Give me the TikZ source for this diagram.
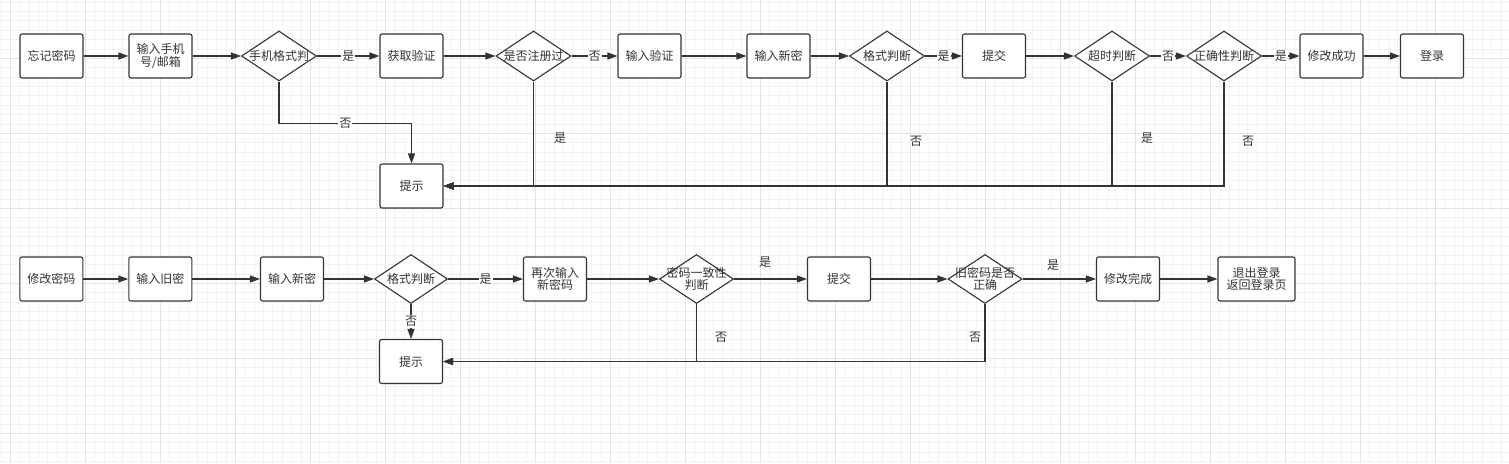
\documentclass[tikz,border=0pt]{standalone}
\usepackage{fontspec}
\setmainfont{Noto Sans CJK SC}
\usetikzlibrary{arrows.meta,shapes.geometric}
\definecolor{ln}{HTML}{333333}
\definecolor{gminorc}{HTML}{F2F2F2}
\definecolor{gmajorc}{HTML}{E3E3E3}
\tikzset{
  txtfont/.style={font=\fontsize{12}{10}\selectfont, text=ln, align=center},
  box/.style={draw=ln, line width=1.1pt, rounded corners=2pt, fill=white,
    minimum width=63pt, minimum height=44pt, inner sep=0pt, txtfont},
  dia/.style={diamond, draw=ln, line width=1.1pt, fill=white,
    minimum width=75pt, minimum height=50pt, inner sep=0pt},
  dtxt/.style={txtfont, inner sep=0pt},
  arr/.style={draw=ln, line width=1.1pt, -{Triangle[length=10pt,width=7pt]}},
  onlbl/.style={fill=white, inner sep=1pt, txtfont},
  sidelbl/.style={inner sep=0pt, txtfont},
}
\begin{document}
\begin{tikzpicture}[x=1pt,y=-1pt]
\fill[white] (0,0) rectangle (1509,463);
\useasboundingbox (0,0) rectangle (1509,463);
% grid
\foreach \i in {0,...,161} {\draw[gminorc, line width=0.7pt] ({\i*9.375+0.925},0) -- ({\i*9.375+0.925},463);}
\foreach \i in {0,...,49} {\draw[gminorc, line width=0.7pt] (0,{\i*9.375+2.05}) -- (1509,{\i*9.375+2.05});}
\foreach \i in {0,...,20} {\draw[gmajorc, line width=0.8pt] ({\i*75+10.3},0) -- ({\i*75+10.3},463);}
\foreach \i in {0,...,6} {\draw[gmajorc, line width=0.8pt] (0,{\i*75+58.3}) -- (1509,{\i*75+58.3});}

% ---------- top row ----------
\node[box] (a1) at (51.5,56) {忘记密码};
\node[box] (a2) at (160.5,56) {输入手机\\号/邮箱};
\node[dia, label={[dtxt]center:手机格式判}] (ad1) at (279,56) {};
\node[box] (a3) at (411.5,56) {获取验证};
\node[box] (ahint) at (411.5,186) {提示};
\node[dia, label={[dtxt]center:是否注册过}] (ad2) at (533.5,56) {};
\node[box] (a4) at (649.5,56) {输入验证};
\node[box] (a5) at (778.5,56) {输入新密};
\node[dia, label={[dtxt]center:格式判断}] (ad3) at (887,56) {};
\node[box] (a6) at (994,56) {提交};
\node[dia, label={[dtxt]center:超时判断}] (ad4) at (1112,56) {};
\node[dia, label={[dtxt]center:正确性判断}] (ad5) at (1224,56) {};
\node[box] (a7) at (1331.5,56) {修改成功};
\node[box] (a8) at (1432,56) {登录};

\draw[arr] (a1) -- (a2);
\draw[arr] (a2) -- (ad1);
\draw[arr] (ad1) -- node[onlbl] {是} (a3);
\draw[arr] (ad1.south) -- ++(0,42) -| node[onlbl, pos=0.25] {否} (ahint.north);
\draw[arr] (a3) -- (ad2);
\draw[arr] (ad2) -- node[onlbl] {否} (a4);
\draw[arr] (ad2.south) |- (ahint.east);
\draw[arr] (a4) -- (a5);
\draw[arr] (a5) -- (ad3);
\draw[arr] (ad3) -- node[onlbl] {是} (a6);
\draw[arr] (ad3.south) |- (ahint.east);
\draw[arr] (a6) -- (ad4);
\draw[arr] (ad4) -- node[onlbl] {否} (ad5);
\draw[arr] (ad4.south) |- (ahint.east);
\draw[arr] (ad5) -- node[onlbl] {是} (a7);
\draw[arr] (ad5.south) |- (ahint.east);
\draw[arr] (a7) -- (a8);

\node[sidelbl] (al1) at (560,138) {是};
\node[sidelbl] (al2) at (916,141) {否};
\node[sidelbl] (al3) at (1147,138) {是};
\node[sidelbl] (al4) at (1248,141) {否};

% ---------- bottom row ----------
\node[box] (b1) at (51.3,279) {修改密码};
\node[box] (b2) at (160.3,279) {输入旧密};
\node[box] (b3) at (292,279) {输入新密};
\node[dia, minimum width=73pt, minimum height=49pt, label={[dtxt]center:格式判断}] (bd1) at (411,279) {};
\node[box] (bhint) at (411,361.5) {提示};
\node[box] (b4) at (555,279) {再次输入\\新密码};
\node[dia, minimum width=74pt, minimum height=49pt, label={[dtxt]center:{密码一致性\\判断}}] (bd2) at (696.5,279) {};
\node[box] (b5) at (839,279) {提交};
\node[dia, minimum width=74pt, minimum height=49pt, label={[dtxt]center:{旧密码是否\\正确}}] (bd3) at (985,279) {};
\node[box] (b6) at (1128,279) {修改完成};
\node[box, minimum width=77pt] (b7) at (1256.5,279) {退出登录\\返回登录页};

\draw[arr] (b1) -- (b2);
\draw[arr] (b2) -- (b3);
\draw[arr] (b3) -- (bd1);
\draw[arr] (bd1) -- node[onlbl] {是} (b4);
\draw[arr] (bd1) -- node[onlbl] {否} (bhint);
\draw[arr] (b4) -- (bd2);
\draw[arr] (bd2) -- (b5);
\draw[arr] (bd2.south) |- (bhint.east);
\draw[arr] (b5) -- (bd3);
\draw[arr] (bd3) -- (b6);
\draw[arr] (bd3.south) |- (bhint.east);
\draw[arr] (b6) -- (b7);

\node[sidelbl] (bl1) at (765,262) {是};
\node[sidelbl] (bl2) at (1053,265) {是};
\node[sidelbl] (bl3) at (721,337) {否};
\node[sidelbl] (bl4) at (975,337) {否};
\end{tikzpicture}
\end{document}
